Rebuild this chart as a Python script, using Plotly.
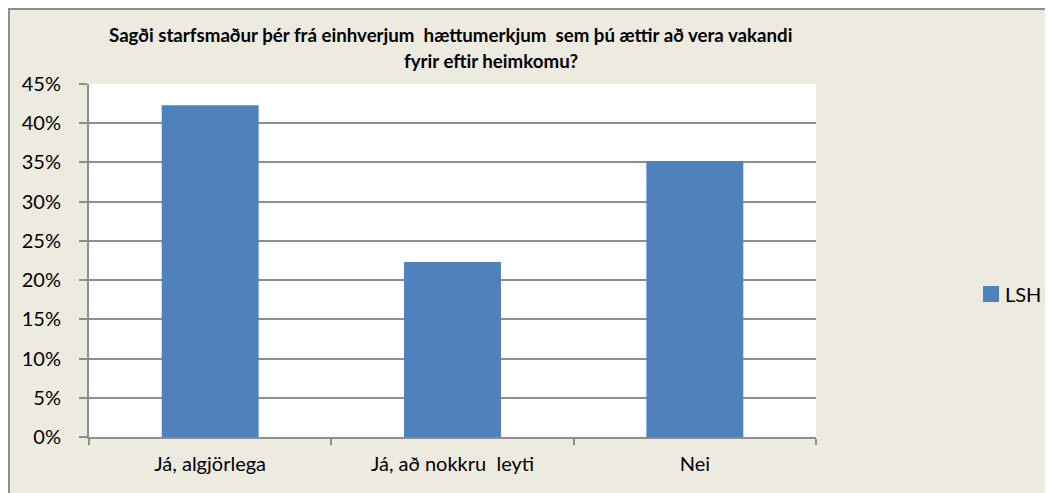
import plotly.graph_objects as go

categories = ["Já, algjörlega", "Já, að nokkru  leyti", "Nei"]
values_lsh = [42.3, 22.3, 35.2]
series_name = "LSH"
title_line1 = "Sagði starfsmaður þér frá einhverjum  hættumerkjum  sem þú ættir að vera vakandi"
title_line2 = "fyrir eftir heimkomu?"
y_ticks = [0, 5, 10, 15, 20, 25, 30, 35, 40, 45]

# page is offset by the 8px body margin
OFF = 8
W, H = 1053 - OFF, 493 - OFF
L, R, T, B = 89 - OFF, 816 - OFF, 84 - OFF, 437 - OFF
FONT = "Lato"
BAR_COLOR = "#4F81BD"

def px_x(px):
    return (px - OFF - L) / (R - L)

def px_y(py):
    return (B - (py - OFF)) / (B - T)

fig = go.Figure()
fig.add_trace(go.Bar(
    x=categories, y=values_lsh, name=series_name,
    marker=dict(color=BAR_COLOR, line=dict(width=0)),
    width=0.4, showlegend=False,
))

beige = "#EDEBE0"
border = "#8E8E8E"
shapes = [
    dict(type="line", xref="paper", yref="paper", x0=px_x(8), x1=px_x(1060), y0=px_y(9), y1=px_y(9),
         line=dict(color=border, width=2), layer="below"),
    dict(type="line", xref="paper", yref="paper", x0=px_x(9), x1=px_x(9), y0=px_y(8), y1=px_y(500),
         line=dict(color=border, width=2), layer="below"),
    # legend key
    dict(type="rect", xref="paper", yref="paper", x0=px_x(983), x1=px_x(999), y0=px_y(302), y1=px_y(286),
         fillcolor=BAR_COLOR, line=dict(width=0), layer="above"),
]

annotations = [
    dict(text="<b>" + title_line1 + "</b>", xref="paper", yref="paper", x=px_x(450), y=px_y(34.5),
         xanchor="center", yanchor="middle", showarrow=False, font=dict(family=FONT, size=18.7, color="black")),
    dict(text="<b>" + title_line2 + "</b>", xref="paper", yref="paper", x=px_x(491), y=px_y(61.5),
         xanchor="center", yanchor="middle", showarrow=False, font=dict(family=FONT, size=18.7, color="black")),
    dict(text=series_name, xref="paper", yref="paper", x=px_x(1003), y=px_y(294),
         xanchor="left", yanchor="middle", showarrow=False, font=dict(family=FONT, size=20, color="black")),
]

fig.update_layout(
    width=W, height=H,
    margin=dict(l=L, r=W - R, t=T, b=H - B, pad=0),
    paper_bgcolor=beige, plot_bgcolor="white",
    font=dict(family=FONT, size=20, color="black"),
    shapes=shapes, annotations=annotations,
    showlegend=False,
    bargap=0.6,
    xaxis=dict(
        type="category", showline=True, linecolor=border, linewidth=2,
        ticks="outside", tickson="boundaries", ticklen=6, tickcolor=border, tickwidth=2,
        showgrid=False, ticklabelstandoff=8, tickfont=dict(family=FONT, size=20, color="black"),
    ),
    yaxis=dict(
        range=[0, 45], tickvals=y_ticks, ticktext=[f"{v}%" for v in y_ticks],
        showline=True, linecolor=border, linewidth=2,
        ticks="outside", ticklen=8, tickcolor=border, tickwidth=2,
        showgrid=True, gridcolor=border, gridwidth=2, zeroline=False,
        ticklabelstandoff=14, tickfont=dict(family=FONT, size=20, color="black"),
    ),
)

fig.write_html("out.html")
